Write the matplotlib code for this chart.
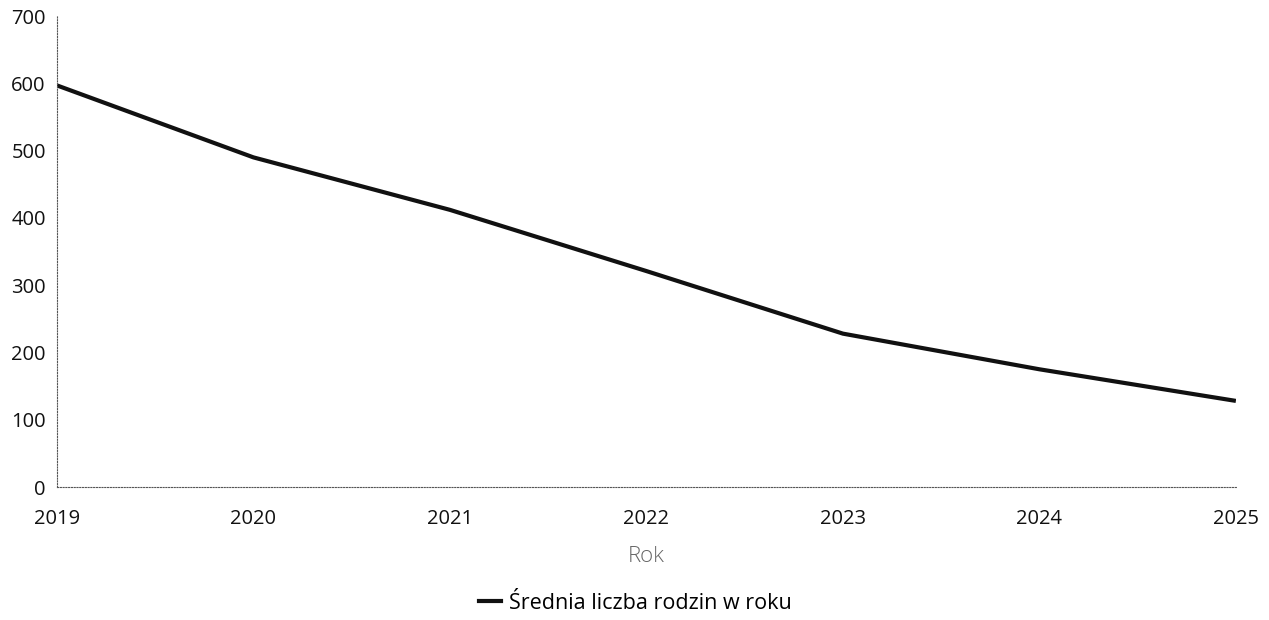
import matplotlib.pyplot as plt
from matplotlib.lines import Line2D

plt.rcParams['font.family'] = ['Open Sans', 'DejaVu Sans']

years = [2019, 2020, 2021, 2022, 2023, 2024, 2025]
families = [597, 490, 412, 321, 228, 175, 128]
y_ticks = [0, 100, 200, 300, 400, 500, 600, 700]
series_label = 'Średnia liczba rodzin w roku'

fig = plt.figure(figsize=(12.69, 6.2), dpi=100)
ax = fig.add_axes([0.0449, 0.2145, 0.929, 0.7595])

ax.plot(years, families, color='#111111', linewidth=3.0, solid_capstyle='butt')

ax.set_xlim(years[0], years[-1])
ax.set_ylim(0, 700)
ax.set_xticks(years)
ax.set_yticks(y_ticks)
ax.tick_params(length=0, labelsize=14.5, colors='#111111')
ax.tick_params(axis='x', pad=16)
ax.tick_params(axis='y', pad=8)

for side in ['top', 'right']:
    ax.spines[side].set_visible(False)
for side in ['left', 'bottom']:
    ax.spines[side].set_linestyle((0, (1, 1.5)))
    ax.spines[side].set_color('#555555')
    ax.spines[side].set_linewidth(0.8)

ax.set_xlabel('Rok', fontsize=16, color='#666666', labelpad=12, fontweight='light')

handle = Line2D([], [], color='#111111', linewidth=3.0)
fig.legend([handle], [series_label], loc='center', bbox_to_anchor=(0.501, 0.027),
           frameon=False, fontsize=15.5, handlelength=1.0, handletextpad=0.4)

fig.savefig('out.png', dpi=100)
